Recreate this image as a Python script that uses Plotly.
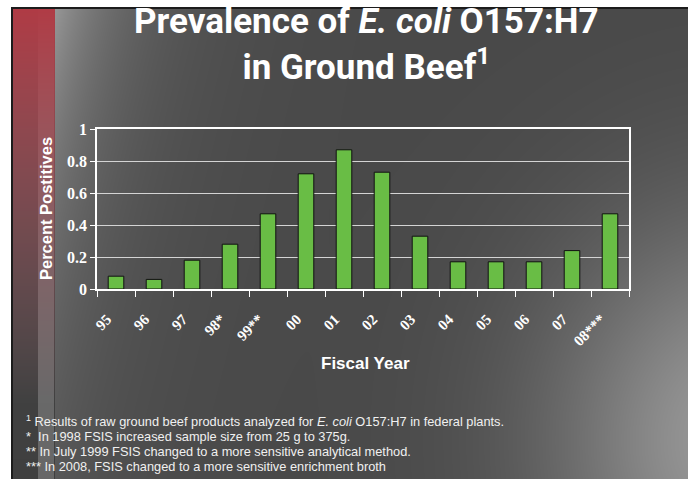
import base64, struct, zlib
import numpy as np
import plotly.graph_objects as go

# ---------------- data ----------------
years = ["95", "96", "97", "98*", "99**", "00", "01", "02", "03", "04", "05", "06", "07", "08***"]
percent_positives = [0.08, 0.06, 0.18, 0.28, 0.47, 0.72, 0.87, 0.73, 0.33, 0.17, 0.17, 0.17, 0.24, 0.47]
y_ticks = [0, 0.2, 0.4, 0.6, 0.8, 1]

title_text = "Prevalence of <i>E. coli</i> O157:H7<br>in Ground Beef<sup>1</sup>"
y_title = "Percent Postitives"
x_title = "Fiscal Year"
footnotes = [
    "<sup>1</sup> Results of raw ground beef products analyzed for <i>E. coli</i> O157:H7 in federal plants.",
    "*  In 1998 FSIS increased sample size from 25 g to 375g.",
    "** In July 1999 FSIS changed to a more sensitive analytical method.",
    "*** In 2008, FSIS changed to a more sensitive enrichment broth",
]

# ---------------- layout geometry ----------------
W, H = 688, 479
L, R, T, B = 97, 629, 129, 289  # plot area in pixels
PW, PH = R - L, B - T


def px(x):
    return (x - L) / PW


def py(y):
    return (B - y) / PH


# ---------------- background image (slide style) ----------------
def make_background():
    yy, xx = np.mgrid[0:H, 0:W].astype(float)
    g = np.full((H, W), 73.0)
    # light wash upper-left
    g += 80 * np.exp(-np.clip(xx - 55, 0, None) / 70) * np.exp(-yy / 280)
    # light wash bottom-right
    d = np.sqrt(((xx - 740) / 1.0) ** 2 + ((yy - 440) / 1.15) ** 2)
    g += 80 * np.exp(-(d / 190) ** 2)
    rgb = np.stack([g, g, g], axis=-1)
    # red strip on the left
    strip = (xx >= 13) & (xx < 55)
    band = ((xx >= 38) & (xx < 54)).astype(float)
    gray_strip = 60 + 40 * band + 25 * np.exp(-yy / 250)
    t = np.clip(yy / 400, 0, 1)
    w = np.clip(1 - t, 0, 1) ** 0.9
    red = np.stack([178 - 20 * t, 58 + 40 * t, 68 + 40 * t], axis=-1)
    gs = np.stack([gray_strip] * 3, axis=-1)
    mix = red * w[..., None] + gs * (1 - w[..., None])
    rgb = np.where(strip[..., None], mix, rgb)
    # dark frame line
    frame = ((xx >= 11) & (xx < 13) & (yy >= 7)) | ((yy >= 7) & (yy < 9) & (xx >= 11))
    rgb[frame] = 28
    # white margin
    white = (xx < 11) | (yy < 7)
    rgb[white] = 255
    return np.clip(rgb, 0, 255).astype(np.uint8)


def png_data_uri(arr):
    h, w, _ = arr.shape
    raw = b"".join(b"\x00" + arr[i].tobytes() for i in range(h))

    def chunk(tag, data):
        c = struct.pack(">I", len(data)) + tag + data
        return c + struct.pack(">I", zlib.crc32(tag + data) & 0xFFFFFFFF)

    png = b"\x89PNG\r\n\x1a\n"
    png += chunk(b"IHDR", struct.pack(">IIBBBBB", w, h, 8, 2, 0, 0, 0))
    png += chunk(b"IDAT", zlib.compress(raw, 9))
    png += chunk(b"IEND", b"")
    return "data:image/png;base64," + base64.b64encode(png).decode()


bg_uri = png_data_uri(make_background())

# ---------------- figure ----------------
fig = go.Figure()
fig.add_trace(go.Bar(
    x=years,
    y=percent_positives,
    marker=dict(color="#69bd45", line=dict(color="#111111", width=1)),
    showlegend=False,
))

serif = "Liberation Serif, Times New Roman, serif"
sans = "Liberation Sans, Arial, sans-serif"

fig.update_layout(
    width=W, height=H,
    margin=dict(l=L, r=W - R, t=T, b=H - B),
    paper_bgcolor="rgba(0,0,0,0)",
    plot_bgcolor="rgba(0,0,0,0)",
    bargap=0.59,
    images=[dict(
        source=bg_uri, xref="paper", yref="paper",
        x=px(0), y=py(0), sizex=W / PW, sizey=H / PH,
        xanchor="left", yanchor="top", sizing="stretch", layer="below",
    )],
)

fig.update_xaxes(
    type="category",
    tickson="boundaries",
    ticks="outside", ticklen=6, tickcolor="white", tickwidth=1,
    showline=True, linecolor="white", linewidth=1.5, mirror=True,
    tickangle=-45,
    tickfont=dict(family=serif, size=15, color="white", weight="bold"),
    ticklabelstandoff=14,
    ticklabelshift=-9,
    showgrid=False,
)
fig.update_yaxes(
    range=[0, 1], tickvals=y_ticks,
    ticks="outside", ticklen=5, tickcolor="white", tickwidth=1,
    showline=True, linecolor="white", linewidth=1.5, mirror=True,
    showgrid=True, gridcolor="#d4d4d4", gridwidth=1.2,
    tickfont=dict(family=serif, size=16, color="white", weight="bold"),
    zeroline=False,
)

annotations = [
    dict(text=title_text, x=px(366), y=py(44), xanchor="center", yanchor="middle",
         font=dict(family="Roboto, Arial, sans-serif", size=35,
                   color="white", weight="bold"), showarrow=False),
    dict(text=y_title, x=px(46), y=py(209), xanchor="center", yanchor="middle", textangle=-90,
         font=dict(family=sans, size=16.5, color="white", weight="bold"), showarrow=False),
    dict(text=x_title, x=px(365), y=py(363), xanchor="center", yanchor="middle",
         font=dict(family=sans, size=17, color="white", weight="bold"), showarrow=False),
]
for i, line in enumerate(footnotes):
    annotations.append(dict(
        text=line, x=px(25), y=py(421 + 15 * i), xanchor="left", yanchor="middle",
        font=dict(family=sans, size=12.8, color="#f0f0f0"), showarrow=False,
        borderpad=0,
    ))

fig.update_layout(annotations=[dict(a, xref="paper", yref="paper") for a in annotations])

fig.write_html("out.html")
